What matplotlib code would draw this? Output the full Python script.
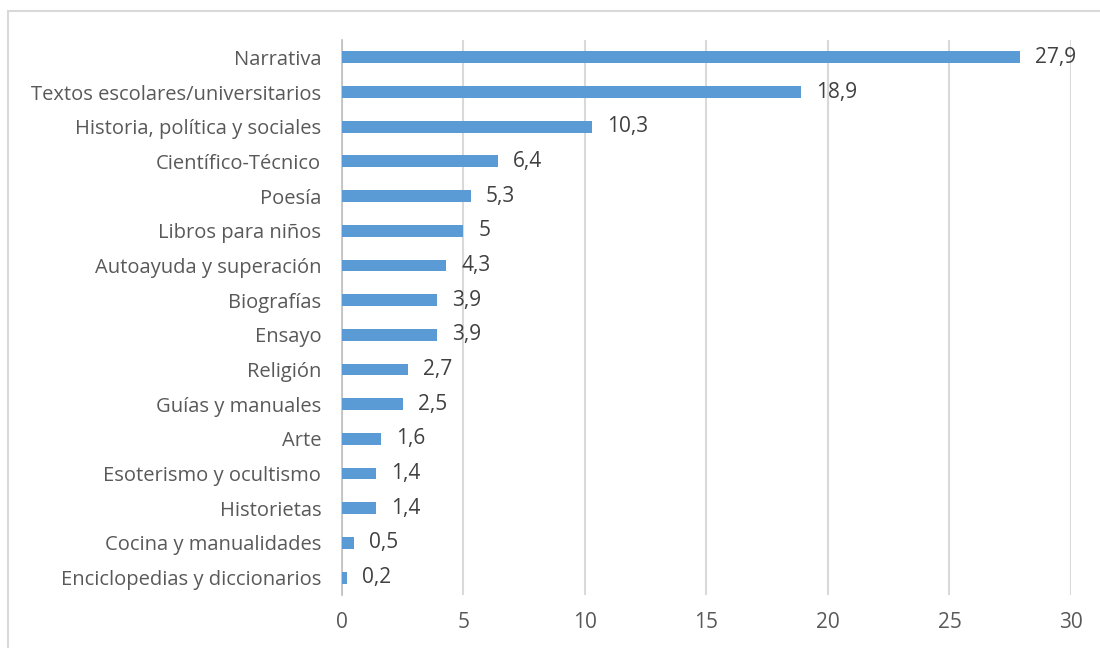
import matplotlib.pyplot as plt
from matplotlib.lines import Line2D

categories = ['Narrativa', 'Textos escolares/universitarios', 'Historia, política y sociales',
              'Científico-Técnico', 'Poesía', 'Libros para niños', 'Autoayuda y superación',
              'Biografías', 'Ensayo', 'Religión', 'Guías y manuales', 'Arte',
              'Esoterismo y ocultismo', 'Historietas', 'Cocina y manualidades',
              'Enciclopedias y diccionarios']
values = [27.9, 18.9, 10.3, 6.4, 5.3, 5, 4.3, 3.9, 3.9, 2.7, 2.5, 1.6, 1.4, 1.4, 0.5, 0.2]
xticks = [0, 5, 10, 15, 20, 25, 30]

plt.rcParams['font.family'] = ['Open Sans', 'DejaVu Sans']
text_color = '#595959'

fig = plt.figure(figsize=(11, 6.48), dpi=100)
ax = fig.add_axes([0.3109, 0.0818, 0.6627, 0.8565])

pos = list(range(len(categories)))
ax.barh(pos, values, height=0.34, color='#5B9BD5', zorder=3)
for p, v in zip(pos, values):
    label = ('%g' % v).replace('.', ',')
    ax.annotate(label, (v, p), xytext=(11, 0), textcoords='offset points',
                va='center', ha='left', fontsize=15, color='#404040')

ax.set_ylim(len(categories) - 0.5, -0.5)
ax.set_yticks(pos)
ax.set_yticklabels(categories, fontsize=14.5, color=text_color)
ax.set_xlim(0, 30)
ax.set_xticks(xticks)
ax.set_xticklabels([str(t) for t in xticks], fontsize=15, color=text_color)
ax.tick_params(axis='y', length=0, pad=15)
ax.tick_params(axis='x', length=0, pad=12)
ax.grid(axis='x', color='#D9D9D9', linewidth=1.5, zorder=0)
for s in ['top', 'right', 'bottom']:
    ax.spines[s].set_visible(False)
ax.spines['left'].set_color('#BFBFBF')
ax.spines['left'].set_linewidth(1.2)

# chart frame
fig.add_artist(Line2D([0.0073, 1.0], [0.983, 0.983], color='#D9D9D9', lw=1.5))
fig.add_artist(Line2D([0.0073, 0.0073], [0.0, 0.983], color='#D9D9D9', lw=1.5))

fig.savefig('out.png', dpi=100)
